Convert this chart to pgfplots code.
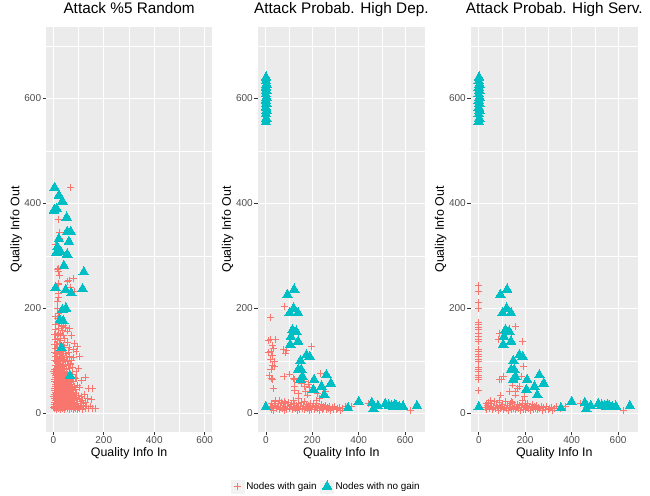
\documentclass[border=0pt]{standalone}
\usepackage{fontspec}
\setmainfont{Liberation Sans}
\usepackage{pgfplots}
\pgfplotsset{compat=1.18}
\usepackage{pgfplotstable}

\definecolor{ggred}{HTML}{F8766D}
\definecolor{ggteal}{HTML}{00BFC4}
\definecolor{panelgrey}{HTML}{EBEBEB}
\definecolor{tickgrey}{HTML}{4D4D4D}
\definecolor{tickdark}{HTML}{333333}
\definecolor{keybg}{HTML}{F2F2F2}

% no-gain nodes, same in the two probabilistic attacks
\pgfplotstableread{
x y
0 12
93 226
122 236
120 200
102 191
139 191
115 159
131 156
108 146
139 137
105 131
175 111
189 108
149 100
153 83
139 83
158 70
148 64
208 64
261 73
280 57
240 51
205 45
252 35
354 10
400 22
457 20
463 8
483 14
515 18
530 15
541 14
548 12
555 16
562 14
575 12
591 13
651 14
0 555
2 562
0 570
3 577
0 583
2 590
0 596
3 602
0 608
2 615
0 621
3 627
0 633
1 640
}\tealprob

\pgfplotstableread{
x y
5 430
22 415
36 404
13 390
3 387
53 373
55 346
69 346
22 332
62 327
16 317
29 308
55 303
13 307
42 281
121 269
9 239
49 235
71 229
116 237
36 197
50 200
26 178
39 176
32 125
66 72
}\tealrand

\pgfplotstableread{
x y
69 431
20 370
26 344
7 321
25 333
16 275
22 270
25 263
55 252
79 257
19 246
69 239
83 233
22 220
20 276
62 254
20 248
20 229
18 213
18 200
22 190
7 184
18 181
33 165
63 162
56 157
22 152
18 143
71 148
82 134
95 127
62 125
79 121
90 118
105 108
79 106
69 96
99 86
90 80
129 68
90 67
112 62
105 50
138 48
155 48
134 29
151 27
168 10
148 14
128 20
115 25
6 9
14 8
22 10
30 7
38 9
46 8
54 10
62 7
70 9
78 8
88 10
96 7
104 9
115 8
126 10
140 9
155 10
165 9
4 14
10 13
17 15
26 14
33 12
41 15
49 13
57 14
65 12
73 15
81 13
92 14
100 12
110 15
120 13
132 14
5 21
13 19
21 22
29 20
36 18
44 21
52 19
60 22
68 20
76 18
85 21
95 19
108 22
118 18
3 28
11 27
19 29
27 26
35 28
43 30
51 27
59 29
67 26
75 28
84 30
93 27
103 29
6 36
14 35
22 37
30 34
38 36
46 38
54 35
62 37
70 34
80 36
90 38
100 35
112 33
123 36
4 44
12 43
20 45
28 42
36 44
44 46
52 43
60 45
68 42
77 44
88 46
7 52
15 51
23 53
31 50
39 52
47 54
55 51
63 53
72 50
83 52
95 54
5 60
13 59
21 61
29 58
37 60
45 62
53 59
61 61
70 58
80 60
8 68
16 67
24 69
32 66
40 68
48 70
56 67
65 69
75 66
86 68
6 76
14 75
22 77
30 74
38 76
46 78
55 75
64 77
74 74
4 84
12 83
20 85
28 82
36 84
44 86
53 83
62 85
75 88
7 92
15 91
23 93
31 90
39 92
48 94
58 91
68 93
5 100
13 99
21 101
29 98
37 100
46 102
56 99
72 101
8 108
16 107
24 109
33 106
42 110
52 107
64 108
4 116
12 115
20 117
28 114
37 118
48 115
60 117
7 124
15 123
24 125
35 122
45 126
5 132
14 131
26 133
40 130
55 135
8 140
18 141
30 139
45 142
6 150
15 149
28 151
40 148
10 160
20 162
35 158
50 163
8 170
25 171
40 168
2 11
9 11
16 11
24 11
31 11
39 11
47 11
55 11
63 11
71 11
82 11
3 17
11 17
19 17
27 17
35 17
43 17
51 17
59 17
67 17
79 17
90 17
7 24
15 24
23 24
31 24
39 24
47 24
55 24
63 24
72 24
82 24
2 32
10 32
18 32
26 32
34 32
42 32
50 32
58 32
66 32
76 32
8 40
16 40
24 40
32 40
40 40
48 40
56 40
65 40
74 40
3 48
11 48
19 48
27 48
35 48
43 48
51 48
59 48
68 48
9 56
17 56
25 56
33 56
41 56
49 56
57 56
66 56
3 64
11 64
19 64
27 64
35 64
43 64
51 64
60 64
9 72
17 72
25 72
33 72
42 72
51 72
2 80
10 80
18 80
26 80
34 80
44 80
}\redrand

\pgfplotstableread{
x y
19 183
20 140
13 139
42 140
27 129
32 124
22 118
10 116
29 111
19 102
36 99
27 92
36 89
22 84
16 73
24 67
27 64
33 47
79 204
75 121
85 115
89 120
78 70
102 75
118 67
122 64
122 51
125 43
142 38
139 29
165 51
171 41
180 35
196 127
234 76
189 50
168 61
153 57
182 56
257 41
222 38
232 29
220 25
18 14
22 8
26 19
30 11
34 6
38 16
42 22
46 9
50 13
54 18
58 7
62 12
66 20
70 10
74 15
78 6
82 11
86 18
90 8
94 14
98 21
102 9
106 13
110 17
114 7
118 12
122 19
126 10
130 15
134 6
138 11
142 18
146 8
150 13
154 20
158 9
162 14
166 7
170 12
174 17
178 10
182 15
186 6
190 11
194 19
198 8
202 13
206 16
210 7
214 12
218 18
222 9
226 14
230 6
234 11
238 17
242 8
246 13
250 10
255 15
260 7
265 12
270 9
275 14
280 6
285 11
290 8
296 13
302 7
308 10
315 12
322 6
330 9
345 13
368 14
440 19
466 13
624 6
40 24
60 25
80 23
120 24
165 22
}\reddep

\pgfplotstableread{
x y
0 243
0 232
0 211
0 200
0 173
0 169
0 164
0 159
0 153
0 146
0 141
0 137
0 122
0 118
0 113
0 108
0 103
0 99
0 88
0 83
0 79
0 73
0 69
0 64
0 43
158 166
187 137
89 153
85 141
193 90
89 64
108 70
99 65
94 35
168 64
183 70
166 48
158 41
157 35
176 51
197 32
190 25
145 54
132 41
27 12
31 18
35 8
39 15
43 21
47 10
51 14
55 19
59 7
63 12
67 23
71 9
75 16
79 11
83 6
87 14
91 20
95 9
99 13
103 17
107 7
111 12
115 22
119 10
123 15
127 6
131 11
135 18
139 8
143 13
147 20
151 9
155 14
159 7
163 12
167 17
171 10
175 15
179 6
183 11
187 19
191 8
195 13
199 16
203 7
207 12
211 18
215 9
219 14
223 6
227 11
231 17
235 8
239 13
243 10
248 15
253 7
258 12
263 9
268 14
274 6
280 11
286 8
292 13
298 7
305 10
312 12
319 6
326 9
334 14
352 10
372 13
438 18
462 12
624 6
50 24
90 25
140 23
}\redserv

\pgfplotsset{
  ggpanel/.style={
    scale only axis,
    height=303.75pt,
    axis background/.style={fill=panelgrey},
    axis line style={draw=none},
    ymin=-35.5, ymax=736,
    ytick={0,200,400,600}, minor ytick={100,300,500,700},
    xtick={0,200,400,600}, minor xtick={100,300,500},
    grid=both,
    major grid style={white, line width=0.8pt},
    minor grid style={white, line width=0.45pt},
    tick align=outside, tick pos=left,
    major tick length=2.5pt, minor tick length=0pt,
    tick style={tickdark, line width=0.5pt},
    ticklabel style={font=\fontsize{7.5}{9}\selectfont, text=tickgrey, inner sep=1pt},
    /pgf/number format/assume math mode=true,
    scaled ticks=false,
    xlabel={Quality Info In}, ylabel={Quality Info Out},
    label style={font=\fontsize{9.3}{11}\selectfont, inner sep=0.5pt},
    xlabel style={at={(axis description cs:0.5,-0.0593)}, anchor=base},
    ylabel style={at={(axis description cs:-0.16,0.5)}, anchor=base},
    title style={at={(axis description cs:0.5,1)}, anchor=base, yshift=4pt,
                 font=\fontsize{11.5}{13}\selectfont},
  },
  gain/.style={only marks, mark=+, mark size=2.6pt, color=ggred,
               mark options={line width=0.65pt}},
  nogain/.style={only marks, mark=triangle*, mark size=4.2pt, color=ggteal,
                 mark options={line width=0pt}},
  keybox/.style={legend image code/.code={
    \fill[keybg] (0pt,-5pt) rectangle (10pt,5pt);
    \draw[##1] plot coordinates {(5pt,0pt)};}},
}

\begin{document}
\begin{tikzpicture}
\useasboundingbox (0,0) rectangle (487.5pt,372pt);

\begin{axis}[ggpanel, at={(34.5pt,48pt)}, anchor=south west, width=124.7pt,
  xmin=-29, xmax=630, title={Attack \%5 Random}]
\addplot[gain] table {\redrand};
\addplot[nogain] table {\tealrand};
\end{axis}

\begin{axis}[ggpanel, at={(193.3pt,48pt)}, anchor=south west, width=125.5pt,
  xmin=-35, xmax=686, title={Attack Probab. High Dep.},
  legend columns=2,
  legend style={at={(0.408,-0.1346)}, anchor=center, draw=none, fill=none,
    font=\fontsize{7.4}{9}\selectfont,
    nodes={inner sep=1.2pt},
    /tikz/every even column/.append style={column sep=1.5pt}},
  legend cell align=left]
\addplot[gain, keybox] table {\reddep};
\addlegendentry{Nodes with gain}
\addplot[nogain, keybox] table {\tealprob};
\addlegendentry{Nodes with no gain}
\end{axis}

\begin{axis}[ggpanel, at={(353pt,48pt)}, anchor=south west, width=125.5pt,
  xmin=-35, xmax=686, title={Attack Probab. High Serv.}]
\addplot[gain] table {\redserv};
\addplot[nogain] table {\tealprob};
\end{axis}
\end{tikzpicture}
\end{document}
